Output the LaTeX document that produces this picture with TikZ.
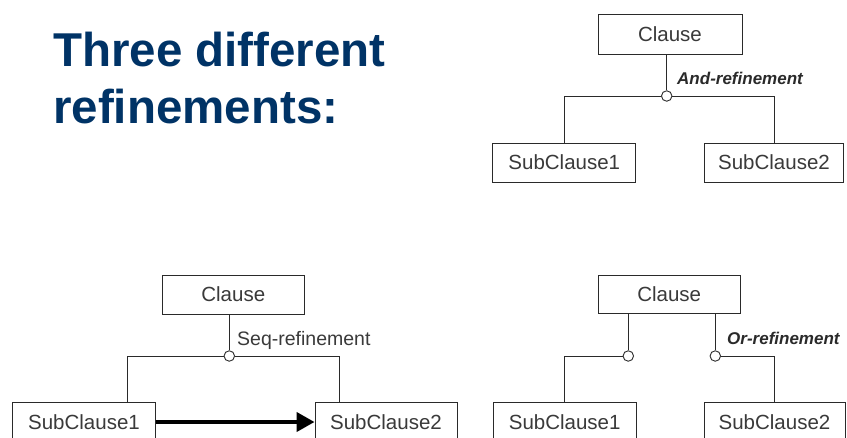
\documentclass[tikz,border=0pt]{standalone}
\usepackage{fontspec}
\setmainfont{Liberation Sans}
\usetikzlibrary{arrows.meta}
\definecolor{titleblue}{HTML}{003366}
\definecolor{ink}{HTML}{2A2A2A}
\definecolor{boxtext}{HTML}{3A3A3A}
\tikzset{
  box/.style={draw=ink, line width=0.9pt, inner sep=0pt, minimum height=39pt, text=boxtext,
    font=\fontsize{20.5}{24}\selectfont},
  junc/.style={circle, draw=ink, fill=white, line width=0.9pt, inner sep=0pt, minimum size=10.5pt},
  conn/.style={draw=ink, line width=0.9pt},
  reflabel/.style={inner sep=0pt, anchor=west, text=ink, font=\fontsize{17}{20}\selectfont\bfseries\itshape},
  seqlabel/.style={inner sep=0pt, anchor=west, text=boxtext, font=\fontsize{19.5}{23}\selectfont},
  titletext/.style={inner sep=0pt, anchor=base west, text=titleblue, font=\fontsize{47.5}{57}\selectfont\bfseries},
  seqarrow/.style={draw=black, line width=4pt, -{Triangle[length=18pt,width=19pt]}}
}
\begin{document}
\begin{tikzpicture}[x=1pt,y=-1pt]
\clip (0,0) rectangle (847,437);
\fill[white] (0,0) rectangle (847,437);

% title
\node[titletext] (title1) at (53,66) {Three different};
\node[titletext] (title2) at (53,123) {refinements:};

% top-right: And-refinement
\node[box, minimum width=144pt, minimum height=40pt] (tc) at (670,34) {Clause};
\node[box, minimum width=143pt] (ts1) at (564.3,162.5) {SubClause1};
\node[box, minimum width=139pt] (ts2) at (774,162.5) {SubClause2};
\node[junc] (tj) at (666.7,96) {};
\draw[conn] (tc.south -| tj) -- (tj.north);
\draw[conn] (tj.west) -| (ts1.north);
\draw[conn] (tj.east) -| (ts2.north);
\node[reflabel] (tl) at (677,78) {And-refinement};

% bottom-left: Seq-refinement
\node[box, minimum width=142pt] (lc) at (233.3,294.5) {Clause};
\node[box, minimum width=143.4pt] (ls1) at (84,422) {SubClause1};
\node[box, minimum width=142pt] (ls2) at (386,422) {SubClause2};
\node[junc] (lj) at (229.3,356) {};
\coordinate (la) at (127.7,356);
\coordinate (lb) at (339.3,356);
\draw[conn] (lc.south -| lj) -- (lj.north);
\draw[conn] (lj.west) -- (la) -- (la |- ls1.north);
\draw[conn] (lj.east) -- (lb) -- (lb |- ls2.north);
\node[seqlabel] (ll) at (237,340) {Seq-refinement};
\draw[seqarrow] (ls1.east) -- (ls2.west);

% bottom-right: Or-refinement
\node[box, minimum width=142pt, minimum height=38pt] (rc) at (669.2,294) {Clause};
\node[box, minimum width=142.7pt] (rs1) at (564.7,422) {SubClause1};
\node[box, minimum width=141pt] (rs2) at (774.5,422) {SubClause2};
\node[junc] (rj1) at (628.3,356) {};
\node[junc] (rj2) at (715.3,356) {};
\draw[conn] (rc.south -| rj1) -- (rj1.north);
\draw[conn] (rc.south -| rj2) -- (rj2.north);
\draw[conn] (rj1.west) -| (rs1.north);
\draw[conn] (rj2.east) -| (rs2.north);
\node[reflabel] (rl) at (727,338) {Or-refinement};
\end{tikzpicture}
\end{document}
